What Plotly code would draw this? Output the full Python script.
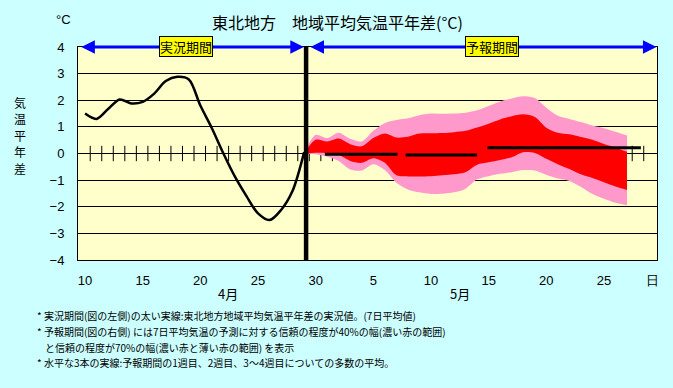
import plotly.graph_objects as go

# ---------------- data ----------------
obs_days = list(range(10, 30))
obs_vals = [1.5, 1.3, 1.67, 2.03, 1.88, 1.94, 2.25, 2.72, 2.88, 2.78,
            1.8, 0.95, 0.0, -0.87, -1.6, -2.25, -2.5, -2.12, -1.4, 0.05]

fc_days = list(range(29, 58))
pink_upper = [0.02, 0.70, 0.58, 0.78, 0.55, 0.45, 0.85, 1.15, 1.26, 1.32,
              1.44, 1.50, 1.49, 1.50, 1.53, 1.62, 1.78, 1.95, 2.07, 2.15,
              2.08, 1.72, 1.42, 1.30, 1.18, 1.05, 0.95, 0.82, 0.68]
red_upper = [0.02, 0.52, 0.45, 0.56, 0.35, 0.27, 0.58, 0.75, 0.60, 0.63,
             0.75, 0.76, 0.77, 0.80, 0.85, 0.98, 1.12, 1.28, 1.40, 1.47,
             1.37, 0.97, 0.78, 0.72, 0.62, 0.52, 0.36, 0.22, 0.07]
red_lower = [0.0, 0.03, 0.02, -0.05, -0.28, -0.35, -0.18, -0.35, -0.82, -0.86,
             -0.86, -0.85, -0.82, -0.78, -0.70, -0.42, -0.33, -0.24, -0.14, 0.05,
             0.02, -0.20, -0.40, -0.58, -0.78, -0.92, -1.08, -1.24, -1.37]
pink_lower = [0.0, -0.03, -0.12, -0.28, -0.60, -0.64, -0.40, -0.62, -1.10, -1.35,
              -1.46, -1.52, -1.51, -1.46, -1.32, -0.97, -0.85, -0.76, -0.70, -0.62,
              -0.64, -0.80, -0.94, -1.03, -1.25, -1.52, -1.70, -1.85, -1.94]

week_start = [30.8, 37.8, 44.9]
week_end = [37.1, 44.0, 58.2]
week_mean = [-0.03, -0.06, 0.22]

split_day = 29.17
tick_marks = [d + 0.45 for d in range(10, 59)]

xtick_vals = [10, 15, 20, 25, 30, 35, 40, 45, 50, 55, 59.2]
xtick_text = ["10", "15", "20", "25", "30", "5", "10", "15", "20", "25", "日"]
ytick_vals = [-4, -3, -2, -1, 0, 1, 2, 3, 4]

month_labels = ["4月", "5月"]
month_pos = [22.4, 42.5]

y_title_chars = ["気", "温", "平", "年", "差"]

notes = [
    "* 実況期間(図の左側)の太い実線:東北地方地域平均気温平年差の実況値。(7日平均値)",
    "* 予報期間(図の右側) には7日平均気温の予測に対する信頼の程度が40%の幅(濃い赤の範囲)",
    "と信頼の程度が70%の幅(濃い赤と薄い赤の範囲) を表示",
    "* 水平な3本の実線:予報期間の1週目、2週目、3～4週目についての多数の平均。",
]

# ---------------- layout helpers ----------------
W, H = 673, 388
L, R, T, B = 78, 657, 47, 260
def px(x):
    return (x - L) / (R - L)
def py(y):
    return (B - y) / (B - T)

JP = "Noto Sans CJK JP"
NUM = "Liberation Sans, Arial, sans-serif"

fig = go.Figure()

# zero-line day ticks
fig.add_trace(go.Scatter(x=tick_marks, y=[0] * len(tick_marks), mode="markers",
                         marker=dict(symbol="line-ns", size=11,
                                     line=dict(color="black", width=1)),
                         hoverinfo="skip", showlegend=False))

# 70% band (pink)
fig.add_trace(go.Scatter(x=fc_days, y=pink_lower, mode="lines",
                         line=dict(width=0, color="#ff99cc", shape="spline", smoothing=0.8),
                         showlegend=False, hoverinfo="skip"))
fig.add_trace(go.Scatter(x=fc_days, y=pink_upper, mode="lines", fill="tonexty",
                         fillcolor="#ff99cc",
                         line=dict(width=0, color="#ff99cc", shape="spline", smoothing=0.8),
                         showlegend=False, hoverinfo="skip"))
# 40% band (red)
fig.add_trace(go.Scatter(x=fc_days, y=red_lower, mode="lines",
                         line=dict(width=0, color="#ff0000", shape="spline", smoothing=0.8),
                         showlegend=False, hoverinfo="skip"))
fig.add_trace(go.Scatter(x=fc_days, y=red_upper, mode="lines", fill="tonexty",
                         fillcolor="#ff0000",
                         line=dict(width=0, color="#ff0000", shape="spline", smoothing=0.8),
                         showlegend=False, hoverinfo="skip"))

# weekly means
wx, wy = [], []
for s, e, m in zip(week_start, week_end, week_mean):
    wx += [s, e, None]
    wy += [m, m, None]
fig.add_trace(go.Scatter(x=wx, y=wy, mode="lines",
                         line=dict(color="black", width=3),
                         showlegend=False, hoverinfo="skip"))

# observed
fig.add_trace(go.Scatter(x=obs_days, y=obs_vals, mode="lines",
                         line=dict(color="black", width=2.5, shape="spline", smoothing=0.9),
                         showlegend=False, hoverinfo="skip"))

# split line
fig.add_shape(type="line", x0=split_day, x1=split_day, y0=-4, y1=4,
              xref="x", yref="y", line=dict(color="black", width=4.5), layer="above")

# blue period arrows
for x0, x1 in [(9.55, split_day - 0.2), (split_day + 0.25, 59.55)]:
    fig.add_annotation(x=x1, y=4, ax=x0, ay=4, xref="x", yref="y", axref="x", ayref="y",
                       text="", showarrow=True, arrowside="end+start", arrowhead=2,
                       arrowsize=0.9, arrowwidth=3, arrowcolor="#0000ff",
                       standoff=0, startstandoff=0)

for txt, xd in [("実況期間", 18.76), ("予報期間", 45.3)]:
    fig.add_annotation(x=xd, y=4, xref="x", yref="y", text=txt, showarrow=False,
                       xanchor="center", yanchor="middle",
                       bgcolor="#ffff00", bordercolor="black", borderwidth=1, borderpad=0,
                       font=dict(family=JP, size=13, color="black"), yshift=1)

def label(xp, yp, text, size, family=JP, pad=1):
    fig.add_annotation(x=px(xp), y=py(yp), xref="paper", yref="paper", text=text,
                       showarrow=False, xanchor="center", yanchor="middle", borderpad=pad,
                       font=dict(family=family, size=size, color="black"))

# titles & labels
label(337, 22, "東北地方　地域平均気温平年差(°C)", 16)
label(63, 19, "°C", 13, NUM)
for i, ch in enumerate(y_title_chars):
    label(20, 102 + 16.5 * i, ch, 12, JP, 0)
for lab, pos in zip(month_labels, month_pos):
    fig.add_annotation(x=pos, y=py(293), xref="x", yref="paper", text=lab,
                       showarrow=False, xanchor="center", yanchor="middle",
                       font=dict(family=JP, size=13, color="black"))

note_pos = [(35, 315), (35, 331), (43, 347), (35, 362)]
for txt, (nx, ny) in zip(notes, note_pos):
    fig.add_annotation(x=px(nx), y=py(ny), xref="paper", yref="paper", text=txt,
                       showarrow=False, xanchor="left", yanchor="middle",
                       font=dict(family=JP, size=10, color="black"))

fig.update_layout(
    width=W, height=H,
    margin=dict(l=L, r=W - R, t=T, b=H - B, pad=0, autoexpand=False),
    paper_bgcolor="#ccffff", plot_bgcolor="#ffffcc",
    showlegend=False,
    xaxis=dict(range=[9.39, 59.6], tickvals=xtick_vals, ticktext=xtick_text,
               showgrid=False, zeroline=False, showline=True, linecolor="black",
               linewidth=1, mirror=True, ticks="", ticklabelstandoff=8,
               automargin=False,
               tickfont=dict(family=NUM, size=13, color="black")),
    yaxis=dict(range=[-4, 4], tickvals=ytick_vals, showgrid=True, gridcolor="black",
               gridwidth=1, zeroline=True, zerolinecolor="black", zerolinewidth=1,
               showline=True, linecolor="black", linewidth=1, mirror=True,
               ticks="", ticklabelstandoff=10, automargin=False,
               tickfont=dict(family=NUM, size=13, color="black")),
)

fig.write_html("out.html", config={"displayModeBar": False},
               post_script="document.body.style.margin='0';document.body.style.background='#ccffff';")
